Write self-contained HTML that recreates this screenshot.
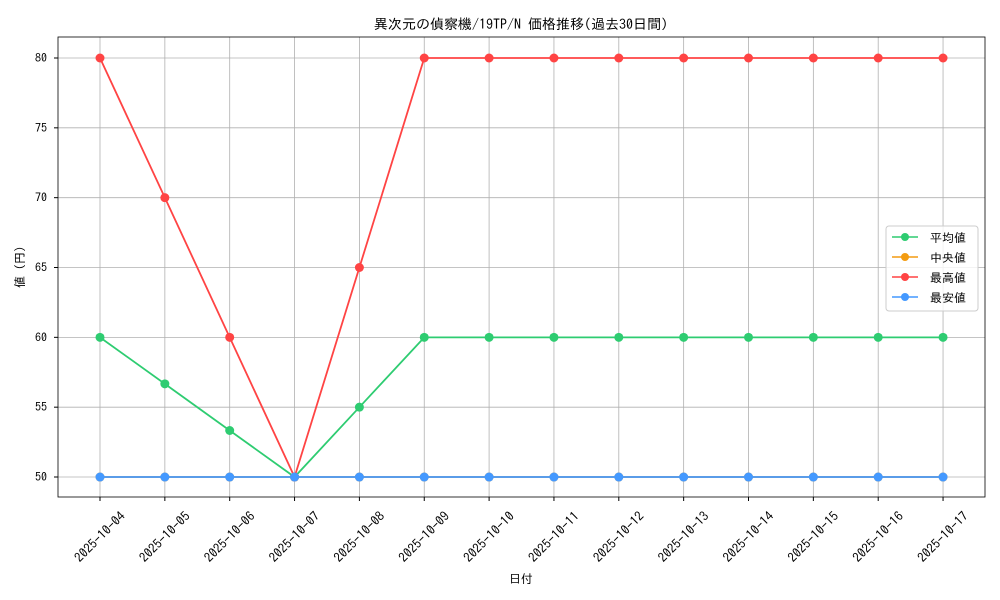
<!DOCTYPE html>
<html><head><meta charset="utf-8"><style>body{margin:0;background:#fff}svg{display:block}text{font-family:"IPAGothic","Noto Sans CJK JP",sans-serif;fill:#000}</style></head><body>
<svg width="1000" height="600" xmlns="http://www.w3.org/2000/svg">
<rect width="1000" height="600" fill="#fff"/>
<g stroke="#b0b0b0" stroke-width="0.8" id="grid"></g>
<text x="521" y="29" font-size="14" text-anchor="middle">異次元の偵察機/19TP/N 価格推移(過去30日間)</text>
<text x="521" y="583" font-size="12" text-anchor="middle">日付</text>
<text transform="translate(24,267) rotate(-90)" font-size="12" text-anchor="middle">値 (円)</text>
<g id="ticks"></g>
<g id="series"></g>
<rect x="58" y="37" width="927" height="460" fill="none" stroke="#000" stroke-width="0.8"/>
<g>
<rect x="886" y="226" width="92" height="85" rx="3" fill="#fff" fill-opacity="0.8" stroke="#ccc"/>
<line x1="892" y1="237" x2="918" y2="237" stroke="#2ecc71" stroke-width="1.5"/><circle cx="905" cy="237" r="4" fill="#2ecc71"/><text x="930" y="242" font-size="12">平均値</text>
<line x1="892" y1="257" x2="918" y2="257" stroke="#f39c12" stroke-width="1.5"/><circle cx="905" cy="257" r="4" fill="#f39c12"/><text x="930" y="262" font-size="12">中央値</text>
<line x1="892" y1="277" x2="918" y2="277" stroke="#ff4444" stroke-width="1.5"/><circle cx="905" cy="277" r="4" fill="#ff4444"/><text x="930" y="282" font-size="12">最高値</text>
<line x1="892" y1="297" x2="918" y2="297" stroke="#4499ff" stroke-width="1.5"/><circle cx="905" cy="297" r="4" fill="#4499ff"/><text x="930" y="302" font-size="12">最安値</text>
</g>
</svg>
<script>
const ns="http://www.w3.org/2000/svg";
const X=i=>100+i*64.85, Y=v=>58+(80-v)*13.967;
const g=document.getElementById('grid'),t=document.getElementById('ticks'),s=document.getElementById('series');
function el(p,n,a){const e=document.createElementNS(ns,n);for(const k in a)e.setAttribute(k,a[k]);p.appendChild(e);return e;}
for(let i=0;i<14;i++){const x=X(i);el(g,'line',{x1:x,y1:37,x2:x,y2:497});el(t,'line',{x1:x,y1:497,x2:x,y2:501,stroke:'#000'});
const d=new Date(2025,9,4+i);const lab='2025-10-'+String(d.getDate()).padStart(2,'0');
const tx=el(t,'text',{'font-size':13,'text-anchor':'middle',transform:`translate(${x+3},${540}) rotate(-45)`});tx.textContent=lab;}
for(let v=50;v<=80;v+=5){const y=Y(v);el(g,'line',{x1:58,y1:y,x2:985,y2:y});el(t,'line',{x1:54,y1:y,x2:58,y2:y,stroke:'#000'});
const tx=el(t,'text',{x:47,y:y+4,'font-size':12,'text-anchor':'end'});tx.textContent=v;}
const data=[["#f39c12",[50,50,50,50,50,50,50,50,50,50,50,50,50,50]],["#2ecc71",[60,56.67,53.33,50,55,60,60,60,60,60,60,60,60,60]],["#ff4444",[80,70,60,50,65,80,80,80,80,80,80,80,80,80]],["#4499ff",[50,50,50,50,50,50,50,50,50,50,50,50,50,50]]];
for(const [c,vs] of data){el(s,'polyline',{points:vs.map((v,i)=>X(i)+','+Y(v)).join(' '),fill:'none',stroke:c,'stroke-width':1.8});
vs.forEach((v,i)=>el(s,'circle',{cx:X(i),cy:Y(v),r:4.5,fill:c}));}
</script>
</body></html>
